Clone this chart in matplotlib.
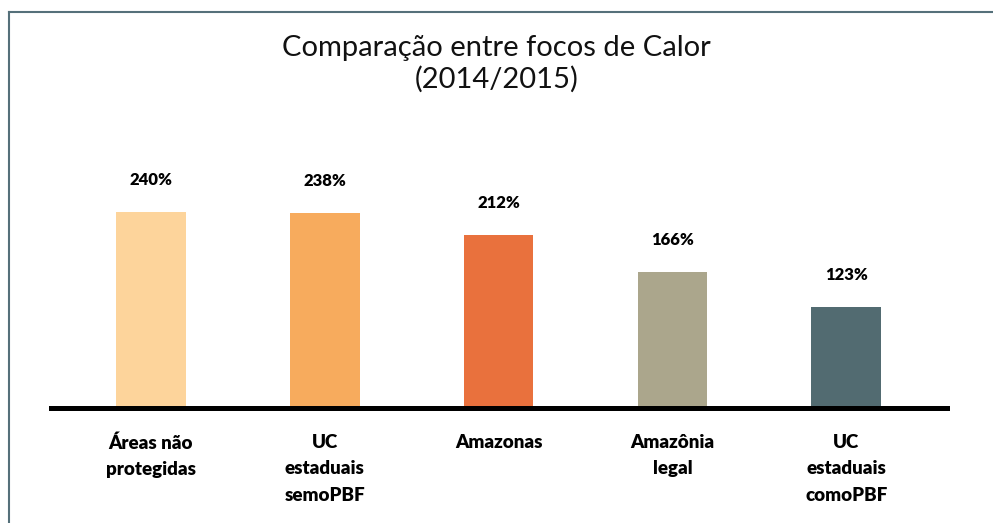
import matplotlib
matplotlib.use("Agg")
import matplotlib.pyplot as plt
from matplotlib.lines import Line2D

matplotlib.rcParams['font.family'] = ['Lato', 'DejaVu Sans']

# dados
categorias = ["Áreas não\nprotegidas", "UC\nestaduais\nsemoPBF", "Amazonas",
              "Amazônia\nlegal", "UC\nestaduais\ncomoPBF"]
valores = [240, 238, 212, 166, 123]
rotulos = ["240%", "238%", "212%", "166%", "123%"]
cores = ["#FDD49B", "#F7AB5D", "#E9713D", "#ABA68C", "#526B71"]

fig = plt.figure(figsize=(9.93, 5.23), dpi=100)
ax = fig.add_axes([51/993, 115/523, 896/993, 278/523])

x = list(range(len(valores)))
ax.bar(x, valores, width=0.4, color=cores, zorder=2)
ax.axhline(0, color="black", linewidth=3.6, zorder=3, clip_on=False)

for i, v in enumerate(valores):
    ax.annotate(rotulos[i], (i, v), xytext=(0, 23), textcoords="offset points",
                ha="center", va="center", fontsize=12, fontweight="heavy")
    ax.annotate(categorias[i], (i, 0), xytext=(0, -19), textcoords="offset points",
                ha="center", va="top", fontsize=13.5, fontweight="heavy",
                linespacing=1.65)

ax.set_xlim(-0.575, 4.58)
ax.set_ylim(0, 340)
ax.axis("off")

fig.text(0.5, 1 - 64/523, "Comparação entre focos de Calor\n(2014/2015)",
         ha="center", va="center", fontsize=21, color="#111111",
         linespacing=1.2)

# moldura (topo e esquerda)
fig.add_artist(Line2D([9/993, 1], [1 - 12/523, 1 - 12/523], color="#55707A",
                      linewidth=1.5, transform=fig.transFigure))
fig.add_artist(Line2D([9/993, 9/993], [0, 1 - 12/523], color="#55707A",
                      linewidth=1.5, transform=fig.transFigure))

fig.savefig("out.png", dpi=100)
